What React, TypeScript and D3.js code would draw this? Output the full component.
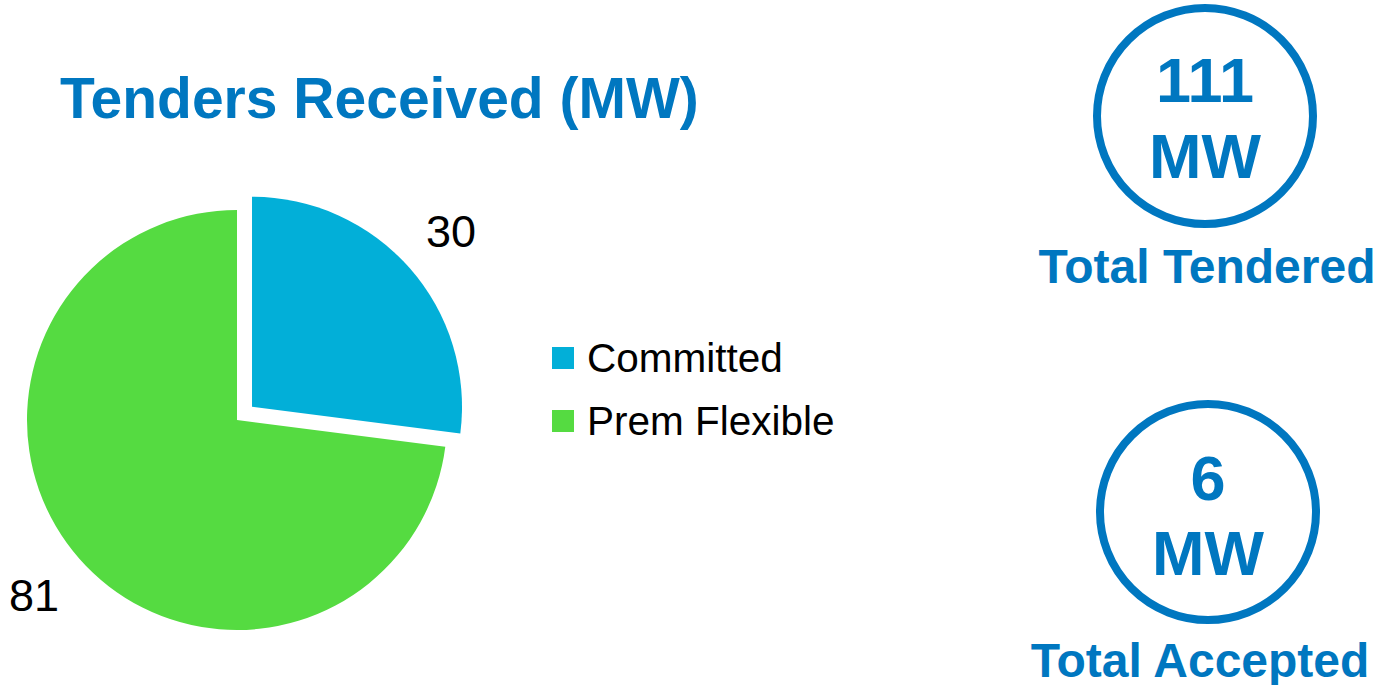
import React from 'react'
import * as d3 from 'd3'

const categories = ['Committed', 'Prem Flexible']
const values = [30, 81]
const colors = ['#02AFD8', '#55DB41']
const explode = [20, 0]

const totalLabels = ['Total Tendered', 'Total Accepted']
const totalValues = [111, 6]

const W = 1381
const H = 685
const BLUE = '#0077C0'
const FONT = '"Liberation Sans", Arial, sans-serif'

export default function App() {
  const cx = 237
  const cy = 420
  const radius = 210

  const pie = d3
    .pie<number>()
    .sort(null)
    .value(d => d)
  const arcs = pie(values)

  const arc = d3
    .arc<d3.PieArcDatum<number>>()
    .innerRadius(0)
    .outerRadius(radius)

  const labelArc = d3
    .arc<d3.PieArcDatum<number>>()
    .innerRadius(265)
    .outerRadius(265)

  // where the two badges sit
  const badges = [
    { x: 1205, y: 116, valueY: 102, unitY: 178, labelY: 283, labelX: 1207 },
    { x: 1208, y: 512, valueY: 500, unitY: 575, labelY: 677, labelX: 1200 }
  ]

  return (
    <svg
      width={W}
      height={H}
      style={{ position: 'absolute', left: 0, top: 0, background: '#fff', fontFamily: FONT }}
    >
      <text x={60} y={118} fill={BLUE} fontSize={57} fontWeight="bold">
        Tenders Received (MW)
      </text>

      <g transform={`translate(${cx},${cy})`}>
        {arcs.map((d, i) => {
          const mid = (d.startAngle + d.endAngle) / 2
          const dx = Math.sin(mid) * explode[i]
          const dy = -Math.cos(mid) * explode[i]
          const [lx, ly] = labelArc.centroid(d)
          return (
            <g key={categories[i]} transform={`translate(${dx},${dy})`}>
              <path d={arc(d) || ''} fill={colors[i]} />
              <text
                x={i === 1 ? lx - 4 : lx}
                y={ly}
                dy="0.35em"
                textAnchor="middle"
                fontSize={45}
                fill="#000"
              >
                {values[i]}
              </text>
            </g>
          )
        })}
      </g>

      {categories.map((c, i) => (
        <g key={c} transform={`translate(552,${347 + i * 63})`}>
          <rect width={22} height={22} fill={colors[i]} />
          <text x={35} y={25} fontSize={40.5} fill="#000">
            {c}
          </text>
        </g>
      ))}

      {badges.map((b, i) => (
        <g key={totalLabels[i]}>
          <circle cx={b.x} cy={b.y} r={108} fill="none" stroke={BLUE} strokeWidth={8} />
          <text x={b.x} y={b.valueY} textAnchor="middle" fontSize={63} fontWeight="bold" fill={BLUE}>
            {totalValues[i]}
          </text>
          <text x={b.x} y={b.unitY} textAnchor="middle" fontSize={63} fontWeight="bold" fill={BLUE}>
            MW
          </text>
          <text x={b.labelX} y={b.labelY} textAnchor="middle" fontSize={48} fontWeight="bold" fill={BLUE}>
            {totalLabels[i]}
          </text>
        </g>
      ))}
    </svg>
  )
}
